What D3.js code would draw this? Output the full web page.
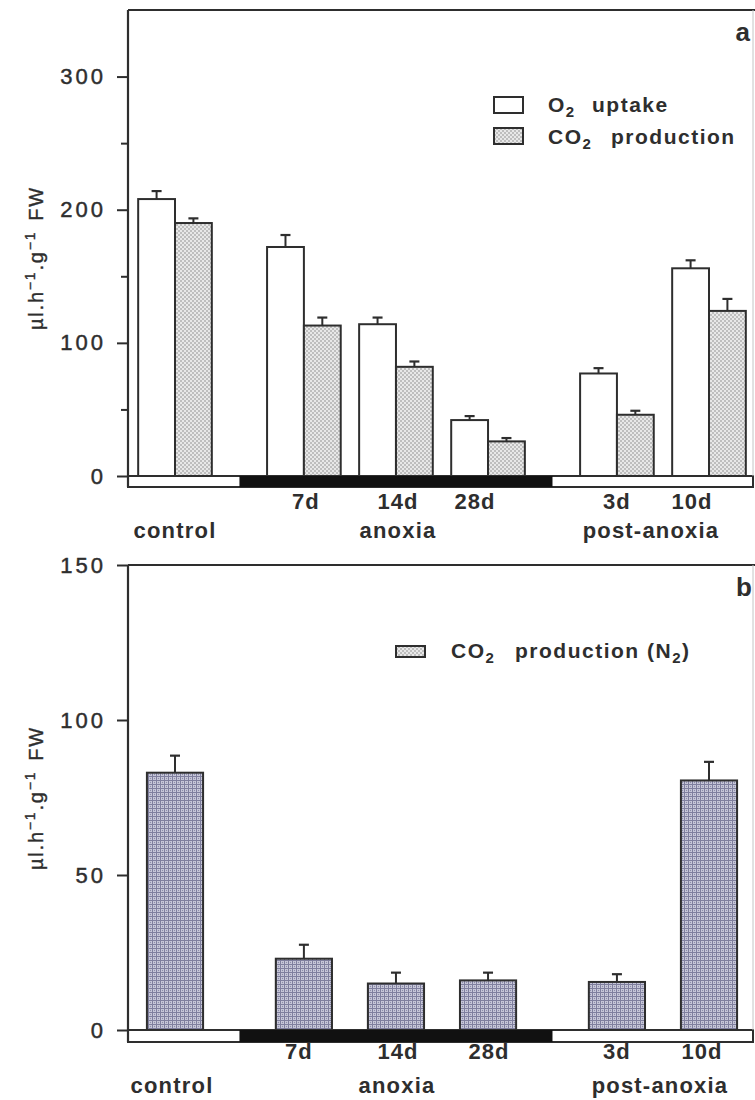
<!DOCTYPE html>
<html>
<head>
<meta charset="utf-8">
<script src="https://cdn.jsdelivr.net/npm/d3@7"></script>
<style>
  body { margin: 0; background: #fff; }
  svg text { font-family: "Liberation Sans", Arial, Helvetica, sans-serif; fill: #2e2e2e; }
</style>
</head>
<body>
<svg id="fig" width="755" height="1100"></svg>
<script>
// ---- data ----
const categories = ["control", "7d", "14d", "28d", "3d", "10d"];
const periods = ["control", "anoxia", "anoxia", "anoxia", "post-anoxia", "post-anoxia"];
const dayLabels = ["", "7d", "14d", "28d", "3d", "10d"];

// panel a: respiration in air (µl h-1 g-1 FW)
const o2Uptake = [208, 172, 114, 42, 77, 156];
const o2UptakeErr = [6, 9, 5, 3, 4, 6];
const co2Air = [190, 113, 82, 26, 46, 124];
const co2AirErr = [3.5, 6, 4, 2.5, 3, 9];

// panel b: CO2 production under N2
const co2N2 = [83, 23, 15, 16, 15.5, 80.5];
const co2N2Err = [5.5, 4.5, 3.5, 2.5, 2.5, 6];

const ticksA = [0, 100, 200, 300];
const minorTicksA = [50, 150, 250];
const ticksB = [0, 50, 100, 150];

// ---- layout ----
const INK = "#2e2e2e";
const left = 128, right = 753;
const svg = d3.select("#fig");

// slot positions: one unit between days of a period, a wider step between periods
const slots = [];
let acc = 0;
categories.forEach((c, i) => {
  if (i > 0) acc += periods[i] === periods[i - 1] ? 1 : 1.4;
  slots.push(acc);
});
const x = d3.scaleLinear().domain([0, slots[slots.length - 1]]).range([175, 709]);
const xs = d => x(slots[categories.indexOf(d)]);
const unit = x(1) - x(0);

// fill patterns
const defs = svg.append("defs");
const dots = defs.append("pattern").attr("id", "stipple")
  .attr("patternUnits", "userSpaceOnUse").attr("width", 4).attr("height", 4);
dots.append("rect").attr("width", 4).attr("height", 4).attr("fill", "#e8e8e8");
dots.append("circle").attr("cx", 1).attr("cy", 1).attr("r", 0.8).attr("fill", "#8a8a8a");
dots.append("circle").attr("cx", 3).attr("cy", 3).attr("r", 0.8).attr("fill", "#8a8a8a");

const grid = defs.append("pattern").attr("id", "gridfill")
  .attr("patternUnits", "userSpaceOnUse").attr("width", 4).attr("height", 4);
grid.append("rect").attr("width", 4).attr("height", 4).attr("fill", "#c9c9da");
grid.append("path").attr("d", "M0,0.5H4M0.5,0V4").attr("stroke", "#7f7f9e").attr("stroke-width", 1);
grid.append("circle").attr("cx", 2.5).attr("cy", 2.5).attr("r", 0.7).attr("fill", "#8d8daa");

function frame(g, top, zero, bandBottom) {
  // period band under the baseline: white for control/recovery, black for anoxia
  g.append("rect").attr("x", left).attr("y", zero).attr("width", right - left)
    .attr("height", bandBottom - zero).attr("fill", "#fff")
    .attr("stroke", INK).attr("stroke-width", 2);
  for (let i = 1; i < categories.length; i++) {
    if (periods[i] !== periods[i - 1] && periods[i] === "anoxia") {
      let j = i;
      while (j + 1 < categories.length && periods[j + 1] === periods[i]) j++;
      const x0 = x((slots[i - 1] + slots[i]) / 2);
      const x1 = j + 1 < categories.length ? x((slots[j] + slots[j + 1]) / 2) : right;
      g.append("rect").attr("x", x0).attr("y", zero).attr("width", x1 - x0)
        .attr("height", bandBottom - zero).attr("fill", "#111");
    }
  }
  // axis frame
  g.append("line").attr("x1", left).attr("x2", left).attr("y1", top).attr("y2", bandBottom)
    .attr("stroke", INK).attr("stroke-width", 2.2);
  g.append("line").attr("x1", left).attr("x2", 755).attr("y1", top).attr("y2", top)
    .attr("stroke", INK).attr("stroke-width", 2);
  g.append("line").attr("x1", right).attr("x2", right).attr("y1", top).attr("y2", zero)
    .attr("stroke", "#c4c4c4").attr("stroke-width", 1);
}

function yAxis(g, y, ticks, minor) {
  const ax = g.append("g").attr("transform", `translate(${left},0)`)
    .call(d3.axisLeft(y).tickValues(ticks).tickSize(11).tickPadding(11).tickFormat(d3.format("d")));
  ax.select(".domain").remove();
  ax.selectAll(".tick line").attr("stroke", INK).attr("stroke-width", 2);
  ax.selectAll(".tick text").attr("fill", INK).attr("stroke", INK).attr("stroke-width", 0.45)
    .style("font-size", "22px").style("letter-spacing", "3px").attr("font-family", null);
  if (minor) {
    const mx = g.append("g").attr("transform", `translate(${left},0)`)
      .call(d3.axisLeft(y).tickValues(minor).tickSize(7).tickFormat(""));
    mx.select(".domain").remove();
    mx.selectAll(".tick line").attr("stroke", INK).attr("stroke-width", 2);
  }
}

function yTitle(g, cx, cy) {
  const t = g.append("text").attr("transform", `translate(${cx},${cy}) rotate(-90)`)
    .attr("text-anchor", "middle").attr("stroke", INK).attr("stroke-width", 0.35)
    .style("font-size", "20px").style("letter-spacing", "1.8px");
  t.append("tspan").text("\u00b5l.h");
  t.append("tspan").attr("dy", -8).style("font-size", "14px").text("\u22121");
  t.append("tspan").attr("dy", 8).text(".g");
  t.append("tspan").attr("dy", -8).style("font-size", "14px").text("\u22121");
  t.append("tspan").attr("dy", 8).attr("dx", 10).text("FW");
}

function xLabels(g, dayY, periodY, dayShift, periodShift) {
  categories.forEach((c, i) => {
    if (!dayLabels[i]) return;
    g.append("text").attr("x", xs(c) + dayShift[i]).attr("y", dayY)
      .attr("text-anchor", "middle").style("font-size", "22px").style("font-weight", "bold")
      .style("letter-spacing", "1px").text(dayLabels[i]);
  });
  const names = Array.from(new Set(periods));
  names.forEach((p, k) => {
    const members = categories.filter((c, i) => periods[i] === p);
    const cx = d3.mean(members, xs) + periodShift[k];
    g.append("text").attr("x", cx).attr("y", periodY).attr("text-anchor", "middle")
      .style("font-size", "22px").style("font-weight", "bold")
      .style("letter-spacing", "1.2px").text(p);
  });
}

function errorBar(g, xc, y0, y1) {
  g.append("line").attr("x1", xc).attr("x2", xc).attr("y1", y0).attr("y2", y1)
    .attr("stroke", INK).attr("stroke-width", 2);
  g.append("line").attr("x1", xc - 5).attr("x2", xc + 5).attr("y1", y1).attr("y2", y1)
    .attr("stroke", INK).attr("stroke-width", 2.2);
}

function legendText(g, xPos, yPos, head, rest, restX) {
  const t = g.append("text").attr("x", xPos).attr("y", yPos)
    .style("font-size", "21px").style("font-weight", "bold").style("letter-spacing", "1.5px");
  t.append("tspan").text(head);
  t.append("tspan").attr("dy", 5).style("font-size", "15px").text("2");
  t.append("tspan").attr("x", restX).attr("dy", -5).text(rest);
  return t;
}

// ---- panel a ----
{
  const top = 10, zero = 476, bandBottom = 487;
  const y = d3.scaleLinear().domain([0, 350]).range([zero, top]);
  const g = svg.append("g");
  const w = 0.4 * unit;

  const bars = g.append("g");
  categories.forEach((c, i) => {
    bars.append("rect").attr("x", xs(c) - w).attr("y", y(o2Uptake[i]))
      .attr("width", w).attr("height", zero - y(o2Uptake[i]))
      .attr("fill", "#fff").attr("stroke", INK).attr("stroke-width", 2);
    errorBar(bars, xs(c) - w / 2, y(o2Uptake[i]), y(o2Uptake[i] + o2UptakeErr[i]));
    bars.append("rect").attr("x", xs(c)).attr("y", y(co2Air[i]))
      .attr("width", w).attr("height", zero - y(co2Air[i]))
      .attr("fill", "url(#stipple)").attr("stroke", INK).attr("stroke-width", 2);
    errorBar(bars, xs(c) + w / 2, y(co2Air[i]), y(co2Air[i] + co2AirErr[i]));
  });

  frame(g, top, zero, bandBottom);
  yAxis(g, y, ticksA, minorTicksA);
  yTitle(g, 43, 258);
  xLabels(g, 509, 538, [0, 2, 2, -13, 0, -17], [0, 2, -12]);

  g.append("text").attr("x", 750).attr("y", 41).attr("text-anchor", "end")
    .style("font-size", "26px").style("font-weight", "bold").text("a");

  // legend
  const lg = g.append("g");
  lg.append("rect").attr("x", 494).attr("y", 97).attr("width", 29).attr("height", 16)
    .attr("fill", "#fff").attr("stroke", INK).attr("stroke-width", 2);
  lg.append("rect").attr("x", 494).attr("y", 128).attr("width", 29).attr("height", 16)
    .attr("fill", "url(#stipple)").attr("stroke", INK).attr("stroke-width", 2);
  legendText(lg, 548, 112, "O", "uptake", 592);
  legendText(lg, 548, 144, "CO", "production", 611);
}

// ---- panel b ----
{
  const top = 565, zero = 1030, bandBottom = 1042;
  const y = d3.scaleLinear().domain([0, 150]).range([zero, top]);
  const g = svg.append("g");
  const w = 0.61 * unit;

  const bars = g.append("g");
  categories.forEach((c, i) => {
    bars.append("rect").attr("x", xs(c) - w / 2).attr("y", y(co2N2[i]))
      .attr("width", w).attr("height", zero - y(co2N2[i]))
      .attr("fill", "url(#gridfill)").attr("stroke", INK).attr("stroke-width", 2);
    errorBar(bars, xs(c), y(co2N2[i]), y(co2N2[i] + co2N2Err[i]));
  });

  frame(g, top, zero, bandBottom);
  yAxis(g, y, ticksB, null);
  yTitle(g, 43, 798);
  xLabels(g, 1059, 1093, [-5, -5, 2, 1, 0, -7], [-3, 1, -3]);

  g.append("text").attr("x", 752).attr("y", 596).attr("text-anchor", "end")
    .style("font-size", "26px").style("font-weight", "bold").text("b");

  const lg = g.append("g");
  lg.append("rect").attr("x", 396).attr("y", 646).attr("width", 29).attr("height", 11)
    .attr("fill", "url(#stipple)").attr("stroke", INK).attr("stroke-width", 2);
  const t = legendText(lg, 451, 658, "CO", "production (N", 515);
  t.append("tspan").attr("dy", 5).style("font-size", "15px").text("2");
  t.append("tspan").attr("dy", -5).text(")");
}
</script>
</body>
</html>
